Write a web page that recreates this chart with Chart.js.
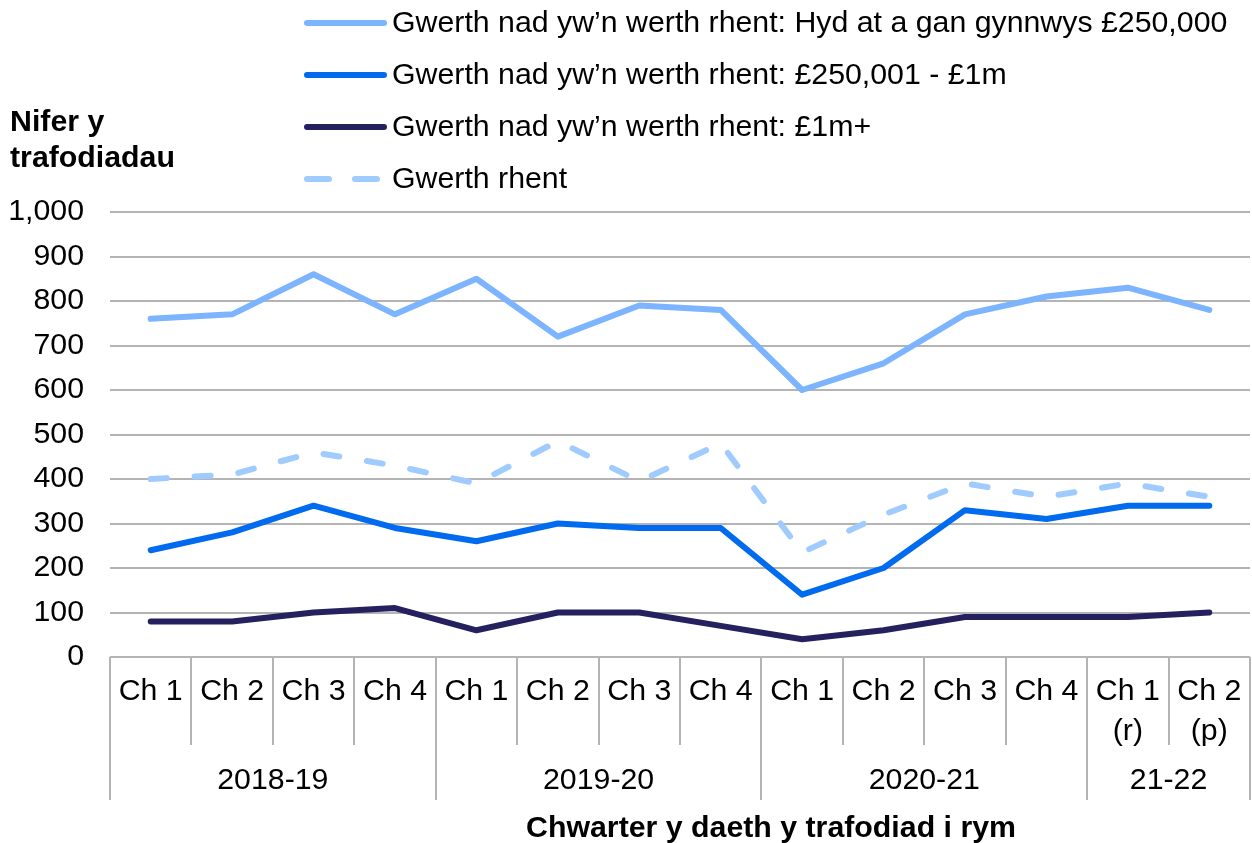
<!DOCTYPE html>
<html>
<head>
<meta charset="utf-8">
<script src="https://cdn.jsdelivr.net/npm/chart.js@4.4.0/dist/chart.umd.min.js"></script>
<style>
  html, body { margin: 0; padding: 0; background: #fff; }
  #wrap { width: 1252px; height: 843px; position: relative; }
</style>
</head>
<body>
<div id="wrap"><canvas id="chart" width="1252" height="843"></canvas></div>
<script>
// Quarter labels (x axis) and financial-year groups
const quarters = ["Ch 1", "Ch 2", "Ch 3", "Ch 4", "Ch 1", "Ch 2", "Ch 3", "Ch 4",
    "Ch 1", "Ch 2", "Ch 3", "Ch 4", ["Ch 1", "(r)"], ["Ch 2", "(p)"]];
const yearGroups = ["2018-19", "2019-20", "2020-21", "21-22"];
const yearGroupSizes = [4, 4, 4, 2];

// Series values
const upTo250k = [760, 770, 860, 770, 850, 720, 790, 780, 600, 660, 770, 810, 830, 780];
const from250kTo1m = [240, 280, 340, 290, 260, 300, 290, 290, 140, 200, 330, 310, 340, 340];
const over1m = [80, 80, 100, 110, 60, 100, 100, 70, 40, 60, 90, 90, 90, 100];
const rentValue = [400, 410, 460, 430, 390, 485, 395, 480, 235, 320, 390, 360, 390, 360];

const seriesNames = [
    "Gwerth nad yw\u2019n werth rhent: Hyd at a gan gynnwys \u00a3250,000",
    "Gwerth nad yw\u2019n werth rhent: \u00a3250,001 - \u00a31m",
    "Gwerth nad yw\u2019n werth rhent: \u00a31m+",
    "Gwerth rhent",
];
const xTitle = "Chwarter y daeth y trafodiad i rym";
const yTitle = ["Nifer y", "trafodiadau"];

const FONT = "'Liberation Sans', Arial, sans-serif";
const FS = 30.3;
const GRID = "#b4b4b4";

function lineSet(label, data, color, dash) {
    return {
        label: label,
        data: data,
        borderColor: color,
        backgroundColor: color,
        borderWidth: 6,
        borderDash: dash || [],
        borderCapStyle: "round",
        borderJoinStyle: "round",
        pointRadius: 0,
        pointHoverRadius: 0,
        tension: 0,
        fill: false,
    };
}

// Draws the legend, the axis titles and the two-level x axis separators
const decorations = {
    id: "decorations",
    afterDraw(chart) {
        const ctx = chart.ctx;
        const area = chart.chartArea;
        const step = (area.right - area.left) / quarters.length;
        ctx.save();

        // separators under the axis
        ctx.strokeStyle = GRID;
        ctx.lineWidth = 2;
        let idx = 0;
        const bounds = [0];
        yearGroupSizes.forEach((n) => { idx += n; bounds.push(idx); });
        for (let i = 0; i <= quarters.length; i++) {
            const x = Math.round(area.left + i * step);
            const long = bounds.includes(i);
            ctx.beginPath();
            ctx.moveTo(x, area.bottom);
            ctx.lineTo(x, long ? area.bottom + 143 : area.bottom + 88);
            ctx.stroke();
        }

        // year group labels
        ctx.fillStyle = "#000";
        ctx.font = FS + "px " + FONT;
        ctx.textAlign = "center";
        ctx.textBaseline = "middle";
        yearGroups.forEach((g, i) => {
            const x0 = area.left + bounds[i] * step;
            const x1 = area.left + bounds[i + 1] * step;
            ctx.fillText(g, (x0 + x1) / 2, area.bottom + 124);
        });

        // x axis title
        ctx.font = "bold " + FS + "px " + FONT;
        ctx.fillText(xTitle, 771, 829);

        // y axis title
        ctx.textAlign = "left";
        ctx.fillText(yTitle[0], 10, 123);
        ctx.fillText(yTitle[1], 10, 159);

        // legend
        const rows = [23, 75, 127, 179];
        chart.data.datasets.forEach((ds, i) => {
            ctx.strokeStyle = ds.borderColor;
            ctx.lineWidth = 6;
            ctx.lineCap = "round";
            ctx.setLineDash(ds.borderDash.length ? [22, 26] : []);
            ctx.beginPath();
            ctx.moveTo(307, rows[i]);
            ctx.lineTo(384, rows[i]);
            ctx.stroke();
            ctx.setLineDash([]);
            ctx.font = FS + "px " + FONT;
            ctx.fillStyle = "#000";
            ctx.fillText(ds.label, 392, rows[i] + 1);
        });
        ctx.restore();
    },
};

const ctx = document.getElementById("chart").getContext("2d");
new Chart(ctx, {
    type: "line",
    data: {
        labels: quarters,
        datasets: [
            lineSet(seriesNames[0], upTo250k, "#7cb4ff"),
            lineSet(seriesNames[1], from250kTo1m, "#006bef"),
            lineSet(seriesNames[2], over1m, "#25215f"),
            lineSet(seriesNames[3], rentValue, "#9fcbff", [16, 28]),
        ],
    },
    options: {
        responsive: false,
        animation: false,
        layout: { padding: { top: 212, left: 10, right: 2, bottom: 0 } },
        plugins: {
            legend: { display: false },
            tooltip: { enabled: false },
        },
        scales: {
            x: {
                offset: true,
                afterFit(scale) {
                    scale.height = 186;
                    scale.paddingLeft = 0;
                    scale.paddingRight = 0;
                },
                grid: { display: false, drawTicks: false },
                border: { display: false },
                ticks: {
                    color: "#000",
                    font: { family: FONT, size: FS, lineHeight: 1.32 },
                    padding: 15,
                    autoSkip: false,
                    maxRotation: 0,
                },
            },
            y: {
                min: 0,
                max: 1000,
                afterFit(scale) { scale.width = 100; },
                grid: { color: GRID, lineWidth: 2, drawTicks: false },
                border: { display: false },
                ticks: {
                    stepSize: 100,
                    color: "#000",
                    padding: 26,
                    font: { family: FONT, size: FS },
                    callback: (v) => v.toLocaleString("en-US"),
                },
            },
        },
    },
    plugins: [decorations],
});
</script>
</body>
</html>
